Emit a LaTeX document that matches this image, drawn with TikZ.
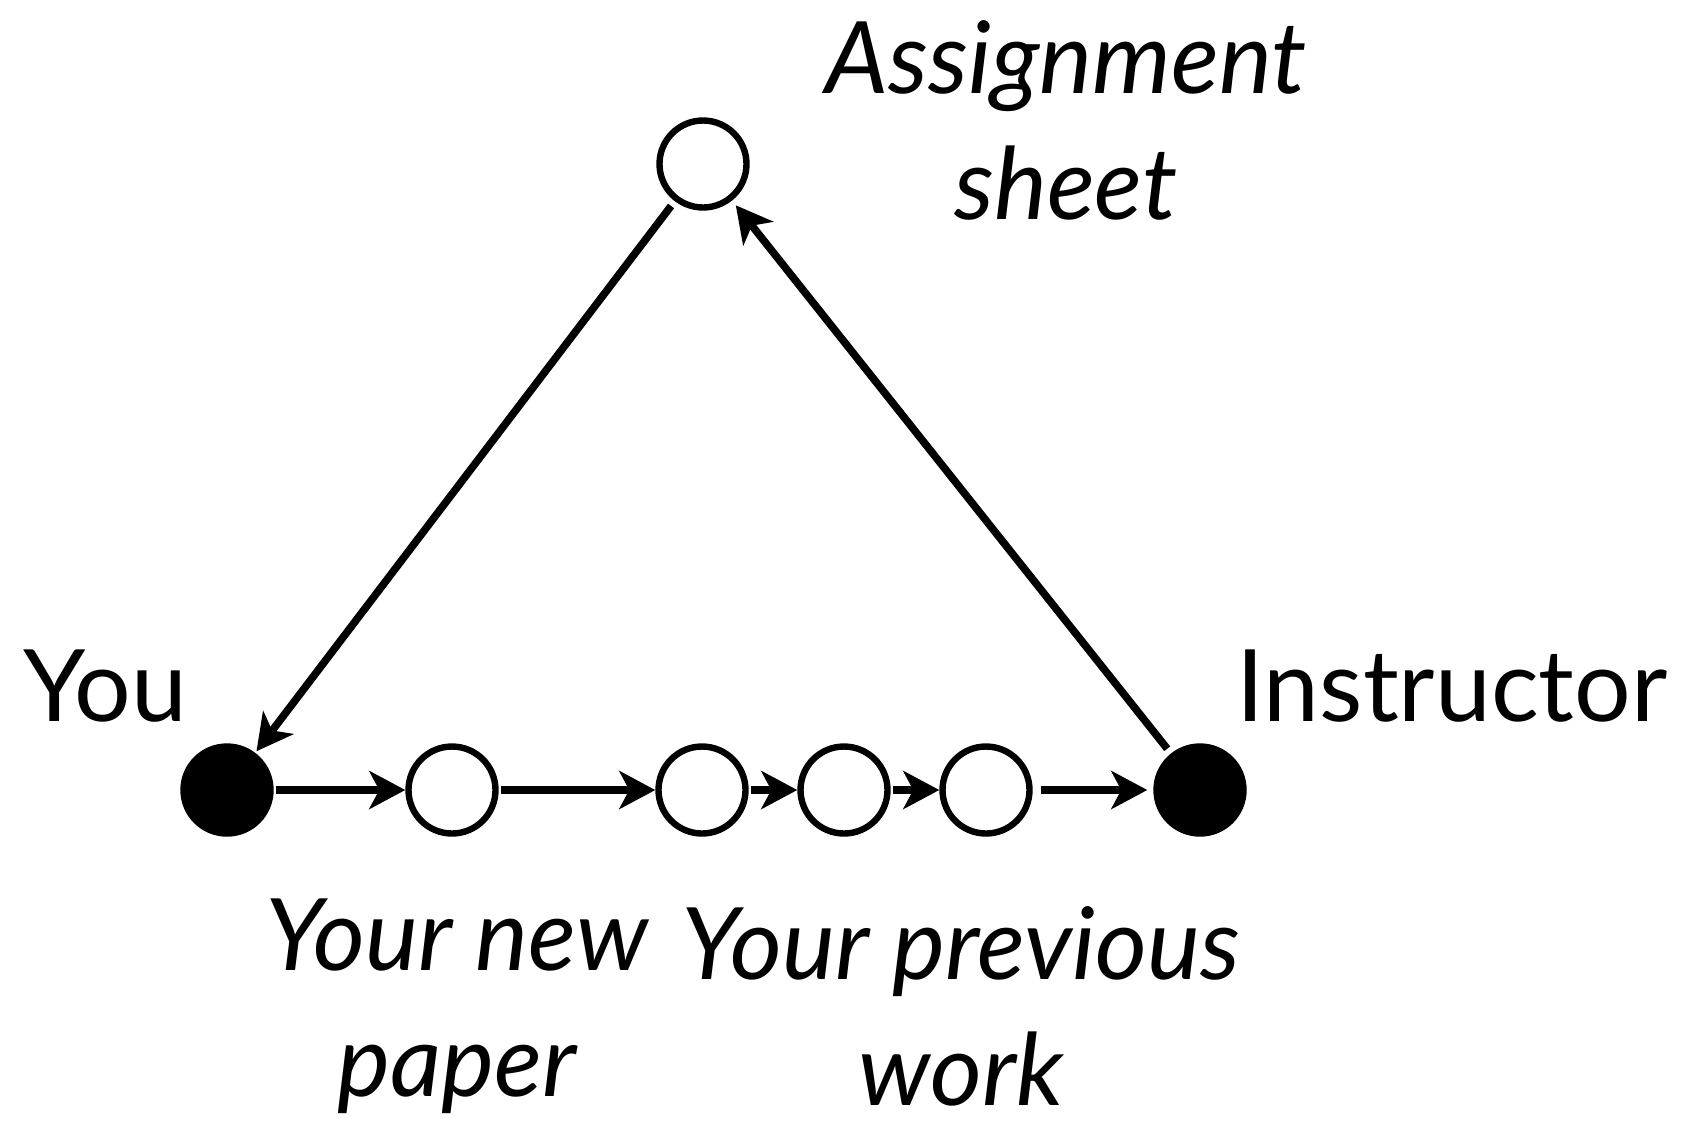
\documentclass[tikz,border=0pt]{standalone}
\usepackage{fontspec}
\setmainfont{Lato}
\usetikzlibrary{arrows.meta}
\begin{document}
\begin{tikzpicture}[x=0.5pt,y=-0.5pt,
  dot/.style={circle,draw=black,line width=3.2pt,minimum size=43.5pt,inner sep=0pt},
  opendot/.style={dot,fill=white},
  fulldot/.style={dot,fill=black},
  arr/.style={line width=3.8pt,-{Stealth[length=18pt,width=19pt,inset=5pt]}},
  lbl/.style={font=\fontsize{50}{63}\selectfont,inner sep=0pt},
  ilbl/.style={font=\fontsize{50}{63}\selectfont\itshape,align=center,inner sep=0pt}]
\fill[white] (0,0) rectangle (1693,1121);
\useasboundingbox (0,0) rectangle (1693,1121);
% nodes
\node[opendot] (A) at (703,164) {};
\node[fulldot] (you) at (227,790) {};
\node[opendot] (c1) at (452,790) {};
\node[opendot] (c2) at (702,790) {};
\node[opendot] (c3) at (844,790) {};
\node[opendot] (c4) at (986,790) {};
\node[fulldot] (ins) at (1200,790) {};
% labels
\node[lbl,anchor=base] (lyou) at (105,721) {You};
\node[lbl,anchor=base] (lins) at (1452,721) {Instructor};
\node[ilbl] (lA) at (1066,120) {Assignment\\sheet};
\node[ilbl] (lnew) at (457,1006) {Your new\\paper};
\node[ilbl] (lprev) at (961,1006) {Your previous\\work};
% connectors
\draw[arr,shorten <=3pt,shorten >=1pt] (A) -- (you);
\draw[arr,shorten <=3pt,shorten >=3pt] (ins) -- (A);
\draw[arr,shorten <=1pt] (you) -- (c1);
\draw[arr,shorten <=1pt] (c1) -- (c2);
\draw[arr,shorten <=1pt] (c2) -- (c3);
\draw[arr,shorten <=1pt] (c3) -- (c4);
\draw[arr,shorten <=4pt,shorten >=3pt] (c4) -- (ins);
\end{tikzpicture}
\end{document}
